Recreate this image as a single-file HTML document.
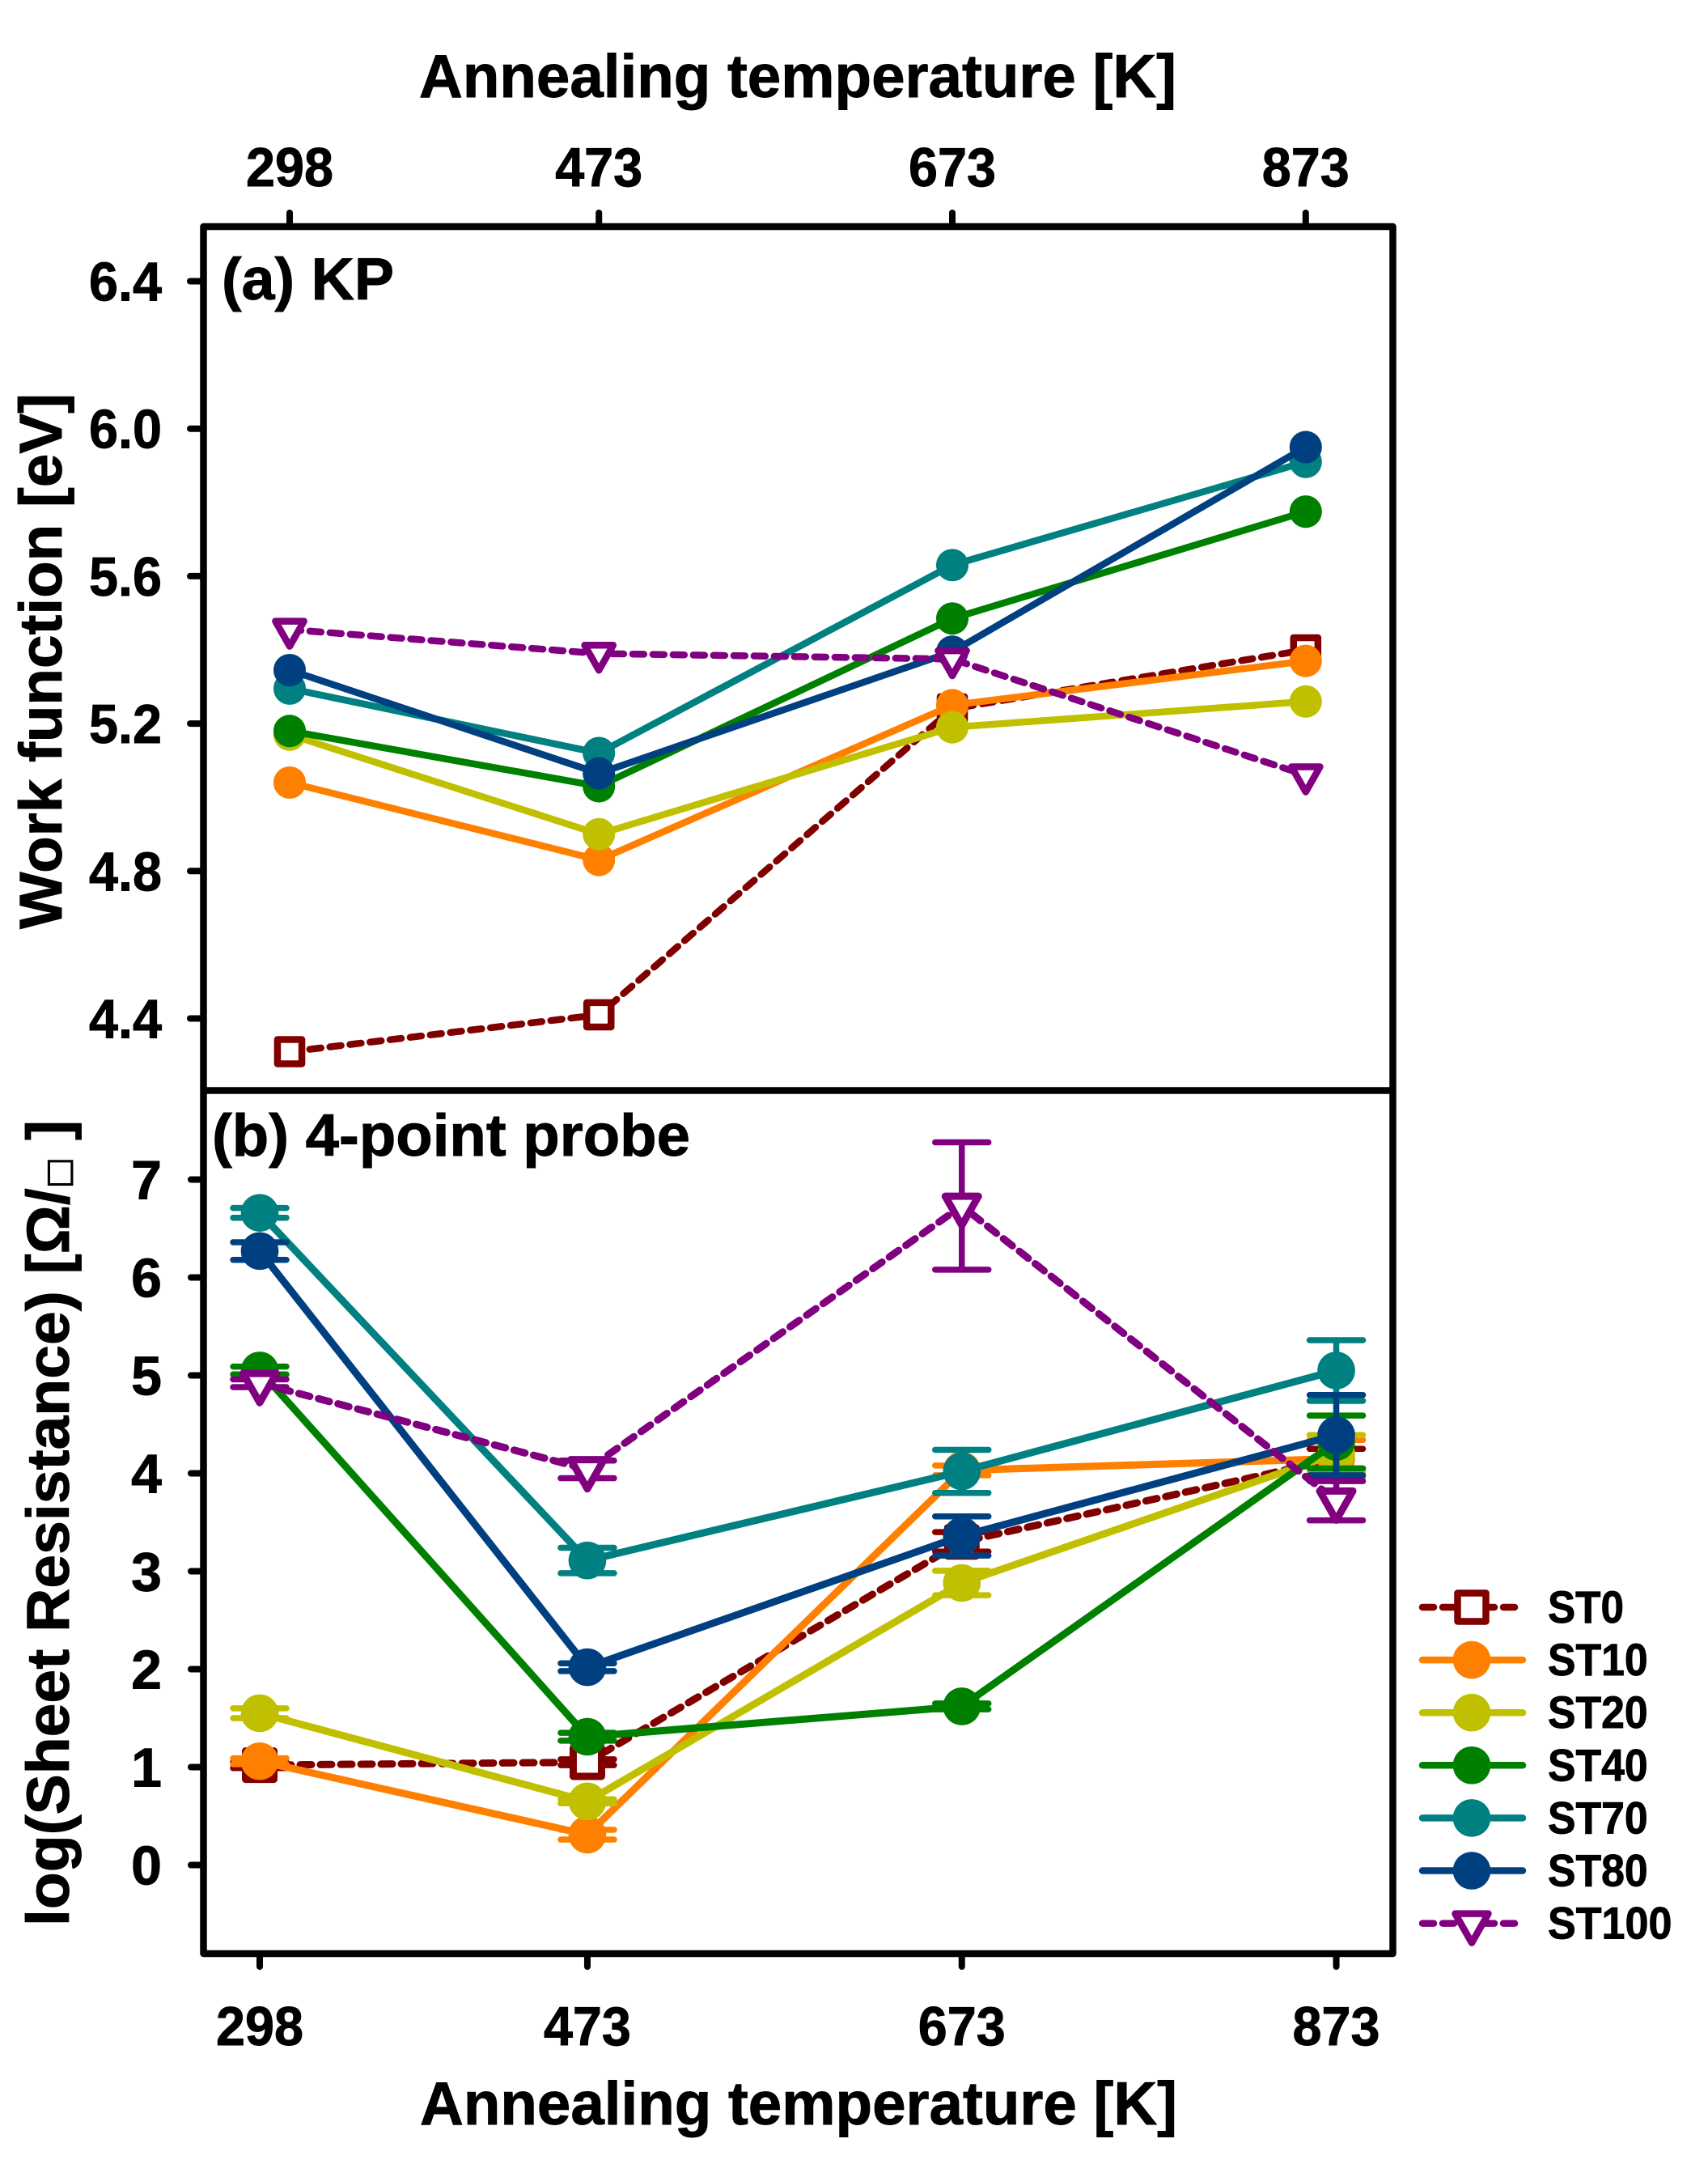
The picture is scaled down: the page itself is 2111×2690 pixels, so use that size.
<!DOCTYPE html>
<html lang="en">
<head>
<meta charset="utf-8">
<title>Work function and sheet resistance vs annealing temperature</title>
<style>
html,body{margin:0;padding:0;background:#fff;}
svg{display:block;}
text{font-family:"Liberation Sans","DejaVu Sans",sans-serif;font-weight:bold;fill:#000;stroke:#000;stroke-width:0.9px;}
</style>
</head>
<body>
<svg id="chart" xmlns="http://www.w3.org/2000/svg" width="2111" height="2690" viewBox="0 0 2111 2690">
  <rect x="0" y="0" width="2111" height="2690" fill="#ffffff"/>
  <g id="panelA"></g>
  <g id="panelB"></g>
  <g id="axes"></g>
  <text x="518" y="120" font-size="75" textLength="936" lengthAdjust="spacingAndGlyphs">Annealing temperature [K]</text>
  <text x="519" y="2625" font-size="75" textLength="936" lengthAdjust="spacingAndGlyphs">Annealing temperature [K]</text>
  <text x="274" y="370" font-size="73" textLength="213" lengthAdjust="spacingAndGlyphs">(a) KP</text>
  <text x="262" y="1428" font-size="73" textLength="591" lengthAdjust="spacingAndGlyphs">(b) 4-point probe</text>
  <text transform="translate(76 1148) rotate(-90)" font-size="74" textLength="662" lengthAdjust="spacingAndGlyphs">Work function [eV]</text>
  <text transform="translate(85 2380) rotate(-90)" font-size="74" textLength="996" lengthAdjust="spacingAndGlyphs">log(Sheet Resistance) [Ω/<tspan font-size="40" font-weight="normal" font-family="'DejaVu Sans',sans-serif">□</tspan> ]</text>
  <g id="legend"></g>
</svg>
<script>
const temperatures = [298, 473, 673, 873];
const seriesNames = ['ST0', 'ST10', 'ST20', 'ST40', 'ST70', 'ST80', 'ST100'];
const seriesColors = ['#800000', '#FF8000', '#C0C000', '#008000', '#008080', '#004080', '#800080'];
const seriesMarkers = ['square', 'circle', 'circle', 'circle', 'circle', 'circle', 'triangle'];

const workFunctionST0 = [4.31, 4.41, 5.24, 5.40];
const workFunctionST10 = [5.04, 4.83, 5.25, 5.37];
const workFunctionST20 = [5.17, 4.90, 5.19, 5.26];
const workFunctionST40 = [5.18, 5.03, 5.485, 5.775];
const workFunctionST70 = [5.295, 5.12, 5.63, 5.91];
const workFunctionST80 = [5.345, 5.065, 5.395, 5.95];
const workFunctionST100 = [5.455, 5.39, 5.375, 5.06];

const resistanceST0 = [1.02, 1.05, 3.30, 4.15];
const resistanceST10 = [1.06, 0.31, 4.03, 4.15];
const resistanceST20 = [1.55, 0.65, 2.88, 4.20];
const resistanceST40 = [5.05, 1.31, 1.62, 4.32];
const resistanceST70 = [6.66, 3.11, 4.02, 5.05];
const resistanceST80 = [6.27, 2.02, 3.36, 4.39];
const resistanceST100 = [4.92, 4.04, 6.73, 3.72];

const errorST0 = [0.03, 0.03, 0.10, 0.10];
const errorST10 = [0.03, 0.05, 0.05, 0.19];
const errorST20 = [0.05, 0.02, 0.125, 0.19];
const errorST40 = [0.04, 0.04, 0.03, 0.27];
const errorST70 = [0.05, 0.13, 0.22, 0.31];
const errorST80 = [0.09, 0.04, 0.20, 0.41];
const errorST100 = [0.04, 0.09, 0.65, 0.20];

const workFunctionTicks = [6.4, 6.0, 5.6, 5.2, 4.8, 4.4];
const resistanceTicks = [0, 1, 2, 3, 4, 5, 6, 7];

const workFunctionData = [workFunctionST0, workFunctionST10, workFunctionST20, workFunctionST40, workFunctionST70, workFunctionST80, workFunctionST100];
const resistanceData = [resistanceST0, resistanceST10, resistanceST20, resistanceST40, resistanceST70, resistanceST80, resistanceST100];
const errorData = [errorST0, errorST10, errorST20, errorST40, errorST70, errorST80, errorST100];

const NS = 'http://www.w3.org/2000/svg';
function xTop(t) { return 358 + (t - 298) * 2.184; }
function yTop(v) { return 347.5 + (6.4 - v) * 455.5; }
function xBot(t) { return 321 + (t - 298) * 2.314; }
function yBot(v) { return 2304.5 - v * 121; }

function make(tag, props, parent) {
  const node = document.createElementNS(NS, tag);
  for (const key in props) node.setAttribute(key, props[key]);
  parent.appendChild(node);
  return node;
}

function drawMarker(parent, kind, cx, cy, color, scale, sw, label) {
  let el;
  if (kind === 'circle') {
    el = make('circle', {cx: cx, cy: cy, r: 23.3 * scale, fill: color}, parent);
  } else if (kind === 'square') {
    const h = 17.5 * scale;
    el = make('rect', {x: cx - h, y: cy - h, width: 2 * h, height: 2 * h, fill: '#fff', stroke: color, 'stroke-width': sw, 'stroke-linejoin': 'round'}, parent);
  } else {
    const w = 20.5 * scale, t = 12 * scale, b = 24 * scale;
    el = make('path', {d: 'M' + (cx - w) + ' ' + (cy - t) + 'L' + (cx + w) + ' ' + (cy - t) + 'L' + cx + ' ' + (cy + b) + 'Z', fill: '#fff', stroke: color, 'stroke-width': sw, 'stroke-linejoin': 'round'}, parent);
  }
  
  
  return el;
}

function drawPanel(parent, panelKey, data, xFn, yFn, errors, lineWidth, markerScale) {
  seriesNames.forEach(function (name, s) {
    const color = seriesColors[s];
    const dashed = seriesMarkers[s] !== 'circle';
    const group = make('g', {}, parent);
    
    
    const pts = temperatures.map(function (t, i) { return xFn(t) + ',' + yFn(data[s][i]); }).join(' ');
    const line = make('polyline', {points: pts, fill: 'none', stroke: color, 'stroke-width': lineWidth, 'stroke-linejoin': 'round', 'stroke-linecap': dashed ? 'round' : 'butt'}, group);
    if (dashed) line.setAttribute('stroke-dasharray', '14 11');
    
    
    temperatures.forEach(function (t, i) {
      const cx = xFn(t), v = data[s][i];
      if (errors) {
        const hi = yFn(v + errors[s][i]), lo = yFn(v - errors[s][i]);
        const d = 'M' + cx + ' ' + hi + 'L' + cx + ' ' + lo + 'M' + (cx - 33) + ' ' + hi + 'L' + (cx + 33) + ' ' + hi + 'M' + (cx - 33) + ' ' + lo + 'L' + (cx + 33) + ' ' + lo;
        const err = make('path', {d: d, fill: 'none', stroke: color, 'stroke-width': 7.5, 'stroke-linecap': 'round'}, group);
        
        
      }
      drawMarker(group, seriesMarkers[s], cx, yFn(v), color, markerScale, lineWidth, panelKey + '-point-' + name.toLowerCase() + '-' + t);
    });
  });
}

function drawAxes() {
  const axes = document.getElementById('axes');
  const frame = make('rect', {x: 251.5, y: 280, width: 1470, height: 2134, fill: 'none', stroke: '#000', 'stroke-width': 8.5, 'stroke-linejoin': 'round'}, axes);
  
  
  const divider = make('line', {x1: 251.5, x2: 1721.5, y1: 1347.5, y2: 1347.5, stroke: '#000', 'stroke-width': 8.5}, axes);
  
  

  temperatures.forEach(function (t) {
    const topTick = make('line', {x1: xTop(t), x2: xTop(t), y1: 280, y2: 263, stroke: '#000', 'stroke-width': 8, 'stroke-linecap': 'round'}, axes);
    
    
    const topLabel = make('text', {x: xTop(t), y: 230, 'text-anchor': 'middle', 'font-size': 68, textLength: 108, lengthAdjust: 'spacingAndGlyphs'}, axes);
    topLabel.textContent = String(t);
    
    
    const botTick = make('line', {x1: xBot(t), x2: xBot(t), y1: 2414, y2: 2430, stroke: '#000', 'stroke-width': 8, 'stroke-linecap': 'round'}, axes);
    
    
    const botLabel = make('text', {x: xBot(t), y: 2527, 'text-anchor': 'middle', 'font-size': 68, textLength: 108, lengthAdjust: 'spacingAndGlyphs'}, axes);
    botLabel.textContent = String(t);
    
    
  });

  workFunctionTicks.forEach(function (v) {
    const tick = make('line', {x1: 235, x2: 251, y1: yTop(v), y2: yTop(v), stroke: '#000', 'stroke-width': 8, 'stroke-linecap': 'round'}, axes);
    
    
    const label = make('text', {x: 200, y: yTop(v) + 24, 'text-anchor': 'end', 'font-size': 68, textLength: 90, lengthAdjust: 'spacingAndGlyphs'}, axes);
    label.textContent = v.toFixed(1);
    
    
  });

  resistanceTicks.forEach(function (v) {
    const tick = make('line', {x1: 236, x2: 251, y1: yBot(v), y2: yBot(v), stroke: '#000', 'stroke-width': 8, 'stroke-linecap': 'round'}, axes);
    
    
    const label = make('text', {x: 200, y: yBot(v) + 24, 'text-anchor': 'end', 'font-size': 68}, axes);
    label.textContent = String(v);
    
    
  });
}

function drawLegend() {
  const legend = document.getElementById('legend');
  seriesNames.forEach(function (name, s) {
    const y = 1986 + s * 65.1;
    const color = seriesColors[s];
    const dashed = seriesMarkers[s] !== 'circle';
    const entry = make('g', {}, legend);
    
    
    const sample = make('line', {x1: 1758, x2: dashed ? 1875 : 1882, y1: y, y2: y, stroke: color, 'stroke-width': 8.5, 'stroke-linecap': 'round'}, entry);
    if (dashed) sample.setAttribute('stroke-dasharray', '14 11');
    
    
    drawMarker(entry, seriesMarkers[s], 1819, y, color, 1, 8.5, 'legend-marker-' + name.toLowerCase());
    const label = make('text', {x: 1913, y: y + 19, 'font-size': 56, textLength: 94 + (name.length - 3) * 29.7, lengthAdjust: 'spacingAndGlyphs'}, entry);
    label.textContent = name;
    
    
  });
}

drawPanel(document.getElementById('panelA'), 'kp', workFunctionData, xTop, yTop, null, 8.5, 0.86);
drawPanel(document.getElementById('panelB'), 'probe', resistanceData, xBot, yBot, errorData, 9, 1);
drawAxes();
drawLegend();
</script>
</body>
</html>
